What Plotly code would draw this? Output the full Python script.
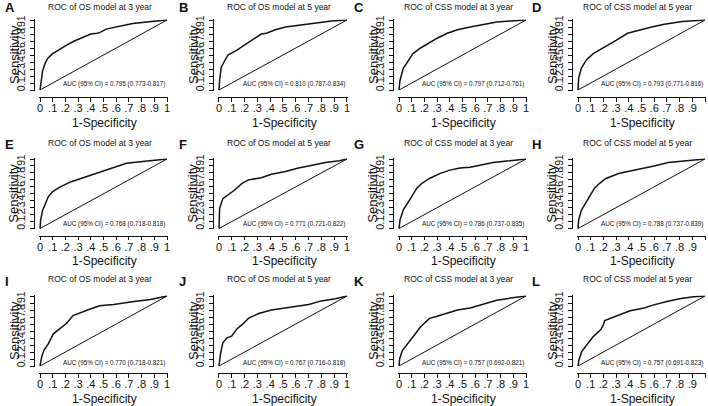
import plotly.graph_objects as go

W, H = 708, 406

panel_letters = ["A", "B", "C", "D", "E", "F", "G", "H", "I", "J", "K", "L"]
panel_titles = ["ROC of OS model at 3 year", "ROC of OS model at 5 year",
                "ROC of CSS model at 3 year", "ROC of CSS model at 5 year"] * 3
auc_labels = [
    "AUC (95% CI) = 0.795 (0.773-0.817)",
    "AUC (95% CI) = 0.810 (0.787-0.834)",
    "AUC (95% CI) = 0.797 (0.712-0.761)",
    "AUC (95% CI) = 0.793 (0.771-0.816)",
    "AUC (95% CI) = 0.768 (0.718-0.818)",
    "AUC (95% CI) = 0.771 (0.721-0.822)",
    "AUC (95% CI) = 0.786 (0.737-0.835)",
    "AUC (95% CI) = 0.788 (0.737-0.839)",
    "AUC (95% CI) = 0.770 (0.718-0.821)",
    "AUC (95% CI) = 0.767 (0.716-0.818)",
    "AUC (95% CI) = 0.757 (0.692-0.821)",
    "AUC (95% CI) = 0.757 (0.691-0.823)",
]

tick_values = [0, 0.1, 0.2, 0.3, 0.4, 0.5, 0.6, 0.7, 0.8, 0.9, 1]
tick_labels = ["0", ".1", ".2", ".3", ".4", ".5", ".6", ".7", ".8", ".9", "1"]

# ROC curves (1-specificity, sensitivity)
fpr_A = [0, 0.005, 0.01, 0.02, 0.04, 0.06, 0.1, 0.15, 0.21, 0.27, 0.34, 0.40, 0.45, 0.47, 0.52, 0.60, 0.73, 0.86, 1]
tpr_A = [0, 0.08, 0.17, 0.27, 0.38, 0.45, 0.52, 0.58, 0.64, 0.70, 0.76, 0.80, 0.81, 0.82, 0.87, 0.90, 0.95, 0.976, 1]
fpr_B = [0, 0.005, 0.018, 0.045, 0.07, 0.14, 0.2, 0.28, 0.33, 0.37, 0.44, 0.52, 0.65, 0.75, 0.88, 1]
tpr_B = [0, 0.15, 0.33, 0.43, 0.50, 0.57, 0.64, 0.74, 0.80, 0.81, 0.86, 0.90, 0.93, 0.96, 0.985, 1]
fpr_C = [0, 0.008, 0.034, 0.074, 0.11, 0.17, 0.23, 0.30, 0.38, 0.46, 0.56, 0.67, 0.77, 0.88, 1]
tpr_C = [0, 0.14, 0.31, 0.43, 0.52, 0.60, 0.67, 0.74, 0.81, 0.86, 0.90, 0.94, 0.97, 0.986, 1]
fpr_D = [0, 0.005, 0.026, 0.066, 0.12, 0.17, 0.24, 0.30, 0.39, 0.47, 0.58, 0.68, 0.82, 1]
tpr_D = [0, 0.17, 0.31, 0.43, 0.52, 0.57, 0.64, 0.71, 0.81, 0.85, 0.90, 0.94, 0.98, 1]
fpr_E = [0, 0.005, 0.02, 0.04, 0.066, 0.10, 0.16, 0.24, 0.32, 0.39, 0.47, 0.58, 0.68, 0.79, 0.89, 1]
tpr_E = [0, 0.12, 0.26, 0.36, 0.46, 0.53, 0.60, 0.67, 0.72, 0.77, 0.82, 0.88, 0.94, 0.96, 0.976, 1]
fpr_F = [0, 0.005, 0.03, 0.07, 0.12, 0.18, 0.23, 0.33, 0.41, 0.52, 0.62, 0.73, 0.83, 0.94, 1]
tpr_F = [0, 0.29, 0.43, 0.48, 0.55, 0.65, 0.70, 0.73, 0.78, 0.82, 0.87, 0.91, 0.95, 0.976, 1]
fpr_G = [0, 0.008, 0.034, 0.06, 0.10, 0.14, 0.18, 0.24, 0.32, 0.40, 0.48, 0.56, 0.64, 0.74, 0.85, 1]
tpr_G = [0, 0.125, 0.27, 0.34, 0.46, 0.58, 0.65, 0.72, 0.79, 0.84, 0.87, 0.88, 0.91, 0.95, 0.97, 1]
fpr_H = [0, 0.005, 0.026, 0.05, 0.09, 0.13, 0.17, 0.22, 0.32, 0.42, 0.53, 0.60, 0.71, 0.84, 1]
tpr_H = [0, 0.12, 0.26, 0.34, 0.46, 0.58, 0.65, 0.72, 0.79, 0.83, 0.87, 0.90, 0.95, 0.97, 1]
fpr_I = [0, 0.013, 0.03, 0.066, 0.105, 0.16, 0.21, 0.26, 0.30, 0.39, 0.47, 0.58, 0.74, 0.87, 1]
tpr_I = [0, 0.13, 0.22, 0.32, 0.46, 0.54, 0.61, 0.72, 0.75, 0.81, 0.86, 0.88, 0.92, 0.95, 1]
fpr_J = [0, 0.013, 0.03, 0.06, 0.10, 0.14, 0.18, 0.23, 0.31, 0.41, 0.49, 0.62, 0.70, 0.80, 0.91, 1]
tpr_J = [0, 0.19, 0.33, 0.40, 0.43, 0.53, 0.59, 0.68, 0.75, 0.80, 0.82, 0.86, 0.88, 0.93, 0.96, 1]
fpr_K = [0, 0.005, 0.026, 0.08, 0.12, 0.17, 0.24, 0.30, 0.38, 0.46, 0.56, 0.67, 0.77, 0.88, 1]
tpr_K = [0, 0.10, 0.22, 0.34, 0.44, 0.56, 0.68, 0.71, 0.76, 0.80, 0.83, 0.89, 0.94, 0.97, 1]
fpr_L = [0, 0.008, 0.03, 0.07, 0.12, 0.18, 0.20, 0.21, 0.31, 0.41, 0.52, 0.59, 0.70, 0.80, 0.91, 1]
tpr_L = [0, 0.09, 0.21, 0.31, 0.42, 0.52, 0.59, 0.65, 0.72, 0.79, 0.83, 0.87, 0.92, 0.96, 0.99, 1]

fprs = [fpr_A, fpr_B, fpr_C, fpr_D, fpr_E, fpr_F, fpr_G, fpr_H, fpr_I, fpr_J, fpr_K, fpr_L]
tprs = [tpr_A, tpr_B, tpr_C, tpr_D, tpr_E, tpr_F, tpr_G, tpr_H, tpr_I, tpr_J, tpr_K, tpr_L]
diag = [0, 1]

# ---- layout in pixels ----
col_px = [(40, 167), (219, 347), (399, 526), (578, 705)]
row_px = [(20, 90), (159, 228.5), (296, 366)]
xline_off = 7.0      # x-axis line below y=0
yline_off = 6.5      # y-axis line left of x=0
title_y = [6.5, 142.7, 279.3]
letter_x = [3, 177, 352, 530]
letter_y = [7.5, 144, 281]
auc_y = [0.08, 0.07, 0.045]
PAD = 0.008
INK = "#111111"
FONT = "Liberation Sans, Arial, sans-serif"

def px2x(p):
    return p / W

def px2y(p):
    return 1 - p / H

fig = go.Figure()
annotations = []
layout_axes = {}

for i in range(12):
    r, c = divmod(i, 4)
    n = "" if i == 0 else str(i + 1)
    x0, x1 = col_px[c]
    y0, y1 = row_px[r]  # y0 = top (value 1), y1 = bottom (value 0)
    wx = x1 - x0
    hy = y1 - y0
    dom_x = [px2x(x0 - PAD * wx), min(1.0, px2x(x1 + PAD * wx))]
    dom_y = [px2y(y1 + PAD * hy), px2y(y0 - PAD * hy)]
    axis_common = dict(
        range=[-PAD, 1 + PAD], tickmode="array", tickvals=tick_values, ticktext=tick_labels,
        showgrid=False, zeroline=False, showline=True, linecolor=INK, linewidth=0.9,
        ticks="outside", ticklen=4, tickwidth=0.9, tickcolor=INK, automargin=False,
        tickfont=dict(family=FONT, size=11, color=INK), anchor="free", fixedrange=True,
    )
    layout_axes["xaxis" + n] = dict(axis_common, domain=dom_x,
                                    position=px2y(y1 + xline_off), ticklabelstandoff=-3)
    layout_axes["yaxis" + n] = dict(axis_common, domain=dom_y,
                                    position=px2x(x0 - yline_off), tickangle=-90,
                                    tickfont=dict(family=FONT, size=10.5, color=INK))

    fig.add_trace(go.Scatter(x=diag, y=diag, mode="lines", xaxis="x" + n, yaxis="y" + n,
                             line=dict(color=INK, width=1.0), showlegend=False, hoverinfo="skip"))
    fig.add_trace(go.Scatter(x=fprs[i], y=tprs[i], mode="lines", xaxis="x" + n, yaxis="y" + n,
                             line=dict(color=INK, width=1.5), showlegend=False))

    cx = (x0 + x1) / 2
    annotations += [
        dict(text=panel_titles[i], x=px2x(cx - 4), y=px2y(title_y[r]), xref="paper", yref="paper",
             xanchor="center", yanchor="middle", showarrow=False,
             font=dict(family=FONT, size=8.5, color=INK)),
        dict(text="<b>" + panel_letters[i] + "</b>", x=px2x(letter_x[c]), y=px2y(letter_y[r]),
             xref="paper", yref="paper", xanchor="left", yanchor="middle", showarrow=False,
             font=dict(family=FONT, size=13, color=INK)),
        dict(text="Sensitivity", x=px2x(x0 - yline_off - 19.5), y=px2y((y0 + y1) / 2),
             xref="paper", yref="paper", xanchor="center", yanchor="middle", textangle=-90,
             showarrow=False, font=dict(family=FONT, size=13, color=INK)),
        dict(text="1-Specificity", x=px2x(cx + 1), y=px2y(y1 + xline_off + 25.5),
             xref="paper", yref="paper", xanchor="center", yanchor="middle", showarrow=False,
             font=dict(family=FONT, size=12, color=INK)),
        dict(text=auc_labels[i], x=0.585, y=auc_y[r], xref="x" + n, yref="y" + n,
             xanchor="center", yanchor="middle", showarrow=False,
             font=dict(family=FONT, size=6.3, color=INK)),
    ]

fig.update_layout(
    template="none",
    width=W, height=H, margin=dict(l=0, r=0, t=0, b=0, pad=0), autosize=False,
    paper_bgcolor="white", plot_bgcolor="white",
    annotations=annotations, **layout_axes,
)

fig.write_html(
    "out.html",
    config={"displayModeBar": False},
    post_script="document.body.style.margin='0';document.body.style.padding='0';"
                "document.body.style.overflow='hidden';",
)
